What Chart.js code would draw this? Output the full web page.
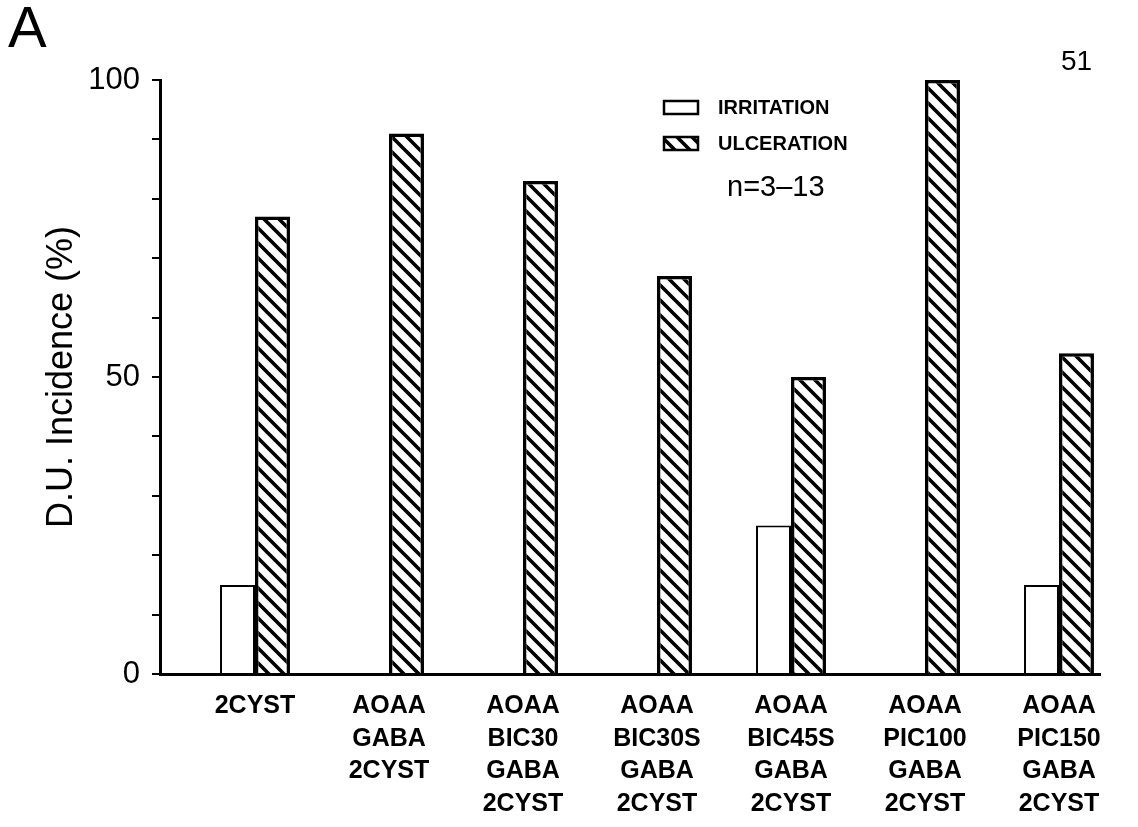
<!DOCTYPE html>
<html>
<head>
<meta charset="utf-8">
<script src="https://cdn.jsdelivr.net/npm/chart.js@4"></script>
<style>
  body { margin: 0; background: #fff; }
</style>
</head>
<body>
<canvas id="duChart" width="1138" height="827"></canvas>
<script>
// values (%)
const categories = [
    '2CYST',
    ['AOAA', 'GABA', '2CYST'],
    ['AOAA', 'BIC30', 'GABA', '2CYST'],
    ['AOAA', 'BIC30S', 'GABA', '2CYST'],
    ['AOAA', 'BIC45S', 'GABA', '2CYST'],
    ['AOAA', 'PIC100', 'GABA', '2CYST'],
    ['AOAA', 'PIC150', 'GABA', '2CYST']
];
const irritation = [15, 0, 0, 0, 25, 0, 15];
const ulceration = [77, 91, 83, 67, 50, 100, 54];
const yTicks = [0, 50, 100];

function hatchPattern() {
    const c = document.createElement('canvas');
    c.width = c.height = 15;
    const g = c.getContext('2d');
    g.fillStyle = '#fff';
    g.fillRect(0, 0, 15, 15);
    g.strokeStyle = '#000';
    g.lineWidth = 3.6;
    g.beginPath();
    g.moveTo(-2, -2); g.lineTo(17, 17);
    g.moveTo(-2, 13); g.lineTo(2, 17);
    g.moveTo(13, -2); g.lineTo(17, 2);
    g.stroke();
    return g.createPattern(c, 'repeat');
}
const hatch = hatchPattern();

// legend, panel letter and page number
const extras = {
    id: 'extras',
    afterDraw(chart) {
        const ctx = chart.ctx;
        ctx.save();
        ctx.fillStyle = '#000';
        ctx.textBaseline = 'middle';
        ctx.font = '300 58px "Liberation Sans"';
        ctx.fillText('A', 8, 31);
        ctx.font = '28px "Liberation Sans"';
        ctx.fillText('51', 1061, 62);

        const rows = [107, 143];
        chart.data.datasets.forEach((ds, i) => {
            const y = rows[i];
            ctx.fillStyle = ds.backgroundColor;
            ctx.fillRect(664, y - 6, 34, 13);
            ctx.strokeStyle = '#000';
            ctx.lineWidth = 2.5;
            ctx.strokeRect(664, y - 6, 34, 13);
            ctx.fillStyle = '#000';
            ctx.font = 'bold 20px "Liberation Sans"';
            ctx.fillText(ds.label, 718, y + 1);
        });
        ctx.font = '29px "Liberation Sans"';
        ctx.fillText('n=3\u201313', 727, 188);
        ctx.restore();
    }
};

new Chart(document.getElementById('duChart').getContext('2d'), {
    type: 'bar',
    data: {
        datasets: [
            {
                label: 'IRRITATION',
                data: irritation.map((v, i) => ({ x: i, y: v })),
                backgroundColor: '#fff',
                borderColor: '#000',
                borderWidth: 2
            },
            {
                label: 'ULCERATION',
                data: ulceration.map((v, i) => ({ x: i, y: v })),
                backgroundColor: hatch,
                borderColor: '#000',
                borderWidth: 3.5
            }
        ]
    },
    options: {
        responsive: false,
        animation: false,
        layout: { padding: { top: 80, right: 38, left: 0, bottom: 0 } },
        datasets: { bar: { categoryPercentage: 0.522, barPercentage: 1.0 } },
        plugins: {
            legend: { display: false },
            tooltip: { enabled: false }
        },
        scales: {
            x: {
                type: 'linear',
                offset: false,
                min: -0.709,
                max: 6.306,
                afterBuildTicks: s => { s.ticks = categories.map((_, i) => ({ value: i })); },
                afterFit: s => { s.height = 153; },
                grid: { display: false, drawTicks: false },
                border: { display: true, color: '#000', width: 3 },
                ticks: {
                    autoSkip: false,
                    maxRotation: 0,
                    padding: 16,
                    color: '#000',
                    font: { family: 'Liberation Sans', weight: 'bold', size: 25, lineHeight: 1.3 },
                    callback: v => categories[v]
                }
            },
            y: {
                min: 0,
                max: 100,
                afterFit: s => { s.width = 160; },
                grid: { drawOnChartArea: false, drawTicks: true, tickLength: 8, color: '#000', lineWidth: 2 },
                border: { display: true, color: '#000', width: 3 },
                ticks: {
                    stepSize: 10,
                    padding: 12,
                    color: '#000',
                    font: { family: 'Liberation Sans', size: 31 },
                    callback: v => yTicks.includes(v) ? v : ''
                },
                title: {
                    display: true,
                    text: 'D.U. Incidence (%)',
                    color: '#000',
                    font: { family: 'Liberation Sans', size: 36 },
                    padding: { top: 40, bottom: 0 }
                }
            }
        }
    },
    plugins: [extras]
});
</script>
</body>
</html>
